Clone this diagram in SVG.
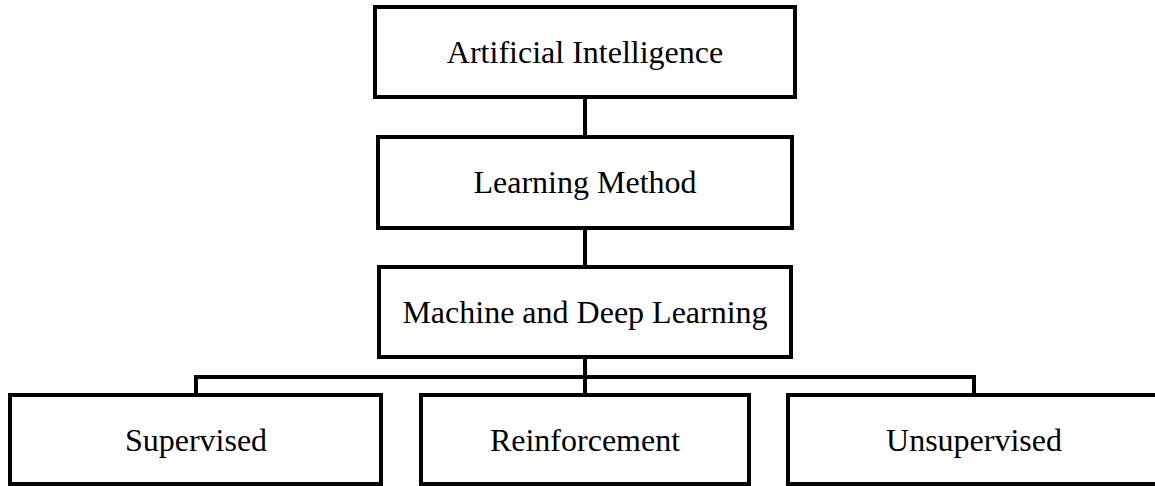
<svg xmlns="http://www.w3.org/2000/svg" width="1155" height="486" viewBox="0 0 1155 486">
<style>
.box{fill:#fff;stroke:#000;stroke-width:4}
.lbl{font-family:"Liberation Serif","Times New Roman",serif;font-size:32px;fill:#000;text-anchor:middle}
.conn{fill:none;stroke:#000;stroke-width:4}
</style>
<rect width="1155" height="486" fill="#fff"/>
<g id="connectors">
<path class="conn" d="M585 97V137M585 228V267M585 357V395M196 395V377H974V395"/>
</g>
<g id="ai"><rect class="box" x="375" y="7" width="420" height="90"/><text class="lbl" x="585" y="63">Artificial Intelligence</text></g>
<g id="lm"><rect class="box" x="378" y="137" width="414" height="91"/><text class="lbl" x="585" y="193">Learning Method</text></g>
<g id="mdl"><rect class="box" x="379" y="267" width="412" height="90"/><text class="lbl" x="585" y="323">Machine and Deep Learning</text></g>
<g id="supervised"><rect class="box" x="10" y="395" width="371" height="89"/><text class="lbl" x="196" y="451">Supervised</text></g>
<g id="reinforcement"><rect class="box" x="421" y="395" width="328" height="89"/><text class="lbl" x="585" y="451">Reinforcement</text></g>
<g id="unsupervised"><rect class="box" x="788" y="395" width="372" height="89"/><text class="lbl" x="974" y="451">Unsupervised</text></g>
</svg>
